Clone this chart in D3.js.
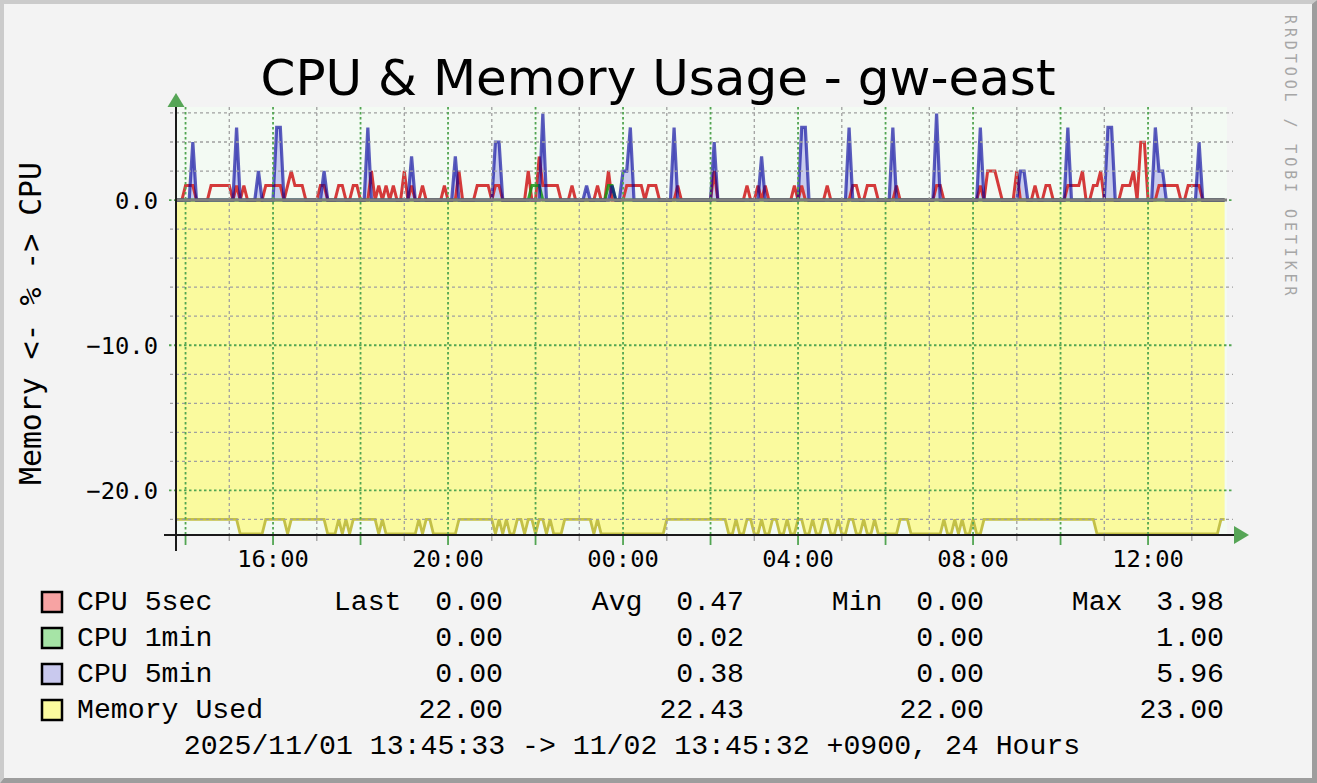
<!DOCTYPE html>
<html>
<head>
<meta charset="utf-8">
<script src="https://cdn.jsdelivr.net/npm/d3@7"></script>
<style>
  body { margin: 0; background: #f3f3f3; }
  svg { display: block; }
  text { white-space: pre; }
</style>
</head>
<body>
<div id="chart"></div>
<script>

// 5-minute samples from 13:50 on 11/01 to 13:45 on 11/02, 24 per row (= 2 hours)

var cpu5sec = [
  0,0,1,1,1,0,0,0,0,1,1,1,1,1,1,0,1,0,1,0,0,0,0,0,
  1,1,1,1,1,0,1,2,1,1,1,0,0,0,0,1,1,0,0,0,1,1,0,0,
  1,1,0,0,0,2,0,1,0,1,0,1,0,0,2,0,1,0,0,1,0,0,0,0,
  0,1,0,0,0,2,0,0,0,0,1,1,1,1,0,1,1,0,0,0,0,0,0,0,
  2,0,0,3,1,1,1,1,1,0,0,0,1,0,0,0,0,0,0,1,0,0,2,0,
  0,0,0,1,1,1,1,1,0,1,1,1,0,0,0,0,0,1,0,0,0,0,0,0,
  0,0,0,2,0,0,0,0,0,0,0,0,1,0,0,1,0,1,0,0,0,0,0,0,
  0,1,0,1,0,0,0,0,0,0,1,0,0,0,0,0,0,1,1,0,0,1,1,1,
  0,0,0,0,0,1,0,0,0,0,0,0,0,0,0,0,1,1,0,0,0,0,0,0,
  0,0,0,0,1,0,2,2,2,1,0,0,0,0,2,0,0,0,0,1,0,0,1,1,
  0,0,0,0,1,1,1,1,2,0,0,1,1,2,0,0,0,0,0,1,1,1,2,0,
  3.98,3.98,0,0,0,1,1,1,1,1,1,0,0,1,1,1,1,0,0,0,0,0,0,0
];

var cpu1min = [
  0,0,0,0,0,0,0,0,0,0,0,0,0,0,0,0,0,0,0,0,0,0,0,0,
  0,0,0,0,0,0,0,0,0,0,0,0,0,0,0,0,0,0,0,0,0,0,0,0,
  0,0,0,0,0,0,0,0,0,0,0,0,0,0,0,0,0,0,0,0,0,0,0,0,
  0,0,0,0,0,0,0,0,0,0,0,0,0,0,0,0,0,0,0,0,0,0,0,0,
  0,1,1,1,0,0,0,0,0,0,0,0,0,0,0,0,0,0,0,0,0,0,1,1,
  0,0,0,0,0,0,0,0,0,0,0,0,0,0,0,0,0,0,0,0,0,0,0,0,
  0,0,0,0,0,0,0,0,0,0,0,0,0,0,0,0,0,0,0,0,0,0,0,0,
  0,0,0,0,0,0,0,0,0,0,0,0,0,0,0,0,0,0,0,0,0,0,0,0,
  0,0,0,0,0,0,0,0,0,0,0,0,0,0,0,0,0,0,0,0,0,0,0,0,
  0,0,0,0,0,0,0,0,0,0,0,0,0,0,0,0,0,0,0,0,0,0,0,0,
  0,0,0,0,0,0,0,0,0,0,0,0,0,0,0,0,0,0,0,0,0,0,0,0,
  0,0,0,0,0,0,0,0,0,0,0,0,0,0,0,0,0,0,0,0,0,0,0,0
];

var cpu5min = [
  0,0,0,0,4,0,0,0,0,0,0,0,0,0,0,0,5,0,0,0,0,0,2,0,
  0,0,0,5,5,0,0,0,0,0,0,0,0,0,0,0,2,0,0,0,0,0,0,0,
  0,0,0,0,5,0,0,0,0,0,0,0,0,0,0,0,3,0,0,0,0,0,0,0,
  0,0,0,0,3,0,0,0,0,0,0,0,0,0,0,4,4,0,0,0,0,0,0,0,
  0,0,0,0,5.96,0,0,0,0,0,0,0,0,0,0,0,1,0,0,0,0,0,0,1,
  0,0,2,2,5,0,0,0,0,0,0,0,0,0,0,0,5,0,0,0,0,0,0,0,
  0,0,0,4,0,0,0,0,0,0,0,0,0,0,0,0,3,0,0,0,0,0,0,0,
  0,0,0,5,5,0,0,0,0,0,0,0,0,0,0,0,5,0,0,0,0,0,0,0,
  0,0,0,0,5,0,0,0,0,0,0,0,0,0,0,0,5.96,0,0,0,0,0,0,0,
  0,0,0,0,5,0,0,0,0,0,0,0,0,0,0,2,2,0,0,0,0,0,0,0,
  0,0,0,0,5,0,0,0,0,0,0,0,0,0,0,5,5,0,0,0,0,0,0,0,
  0,0,0,0,5,2,2,0,0,0,0,0,0,0,0,0,4,0,0,0,0,0,0,0
];

var memoryUsed = [
  22,22,22,22,22,22,22,22,22,22,22,22,22,22,22,22,22,23,23,23,23,23,23,23,
  22,22,22,22,22,22,23,22,22,22,22,22,22,22,22,22,22,23,23,23,22,23,22,23,
  22,22,22,22,22,22,22,23,22,23,23,23,23,23,23,23,23,23,22,23,22,22,23,23,
  23,23,23,23,23,22,22,22,22,22,22,22,22,22,22,23,22,23,22,23,23,22,22,23,
  22,22,23,22,22,23,22,23,23,23,22,22,22,22,22,22,22,22,23,22,23,23,23,23,
  23,23,23,23,23,23,23,23,23,23,23,23,23,23,22,22,22,22,22,22,22,22,22,22,
  22,22,22,22,22,22,22,23,23,22,23,23,22,22,23,23,22,23,23,22,22,23,23,22,
  23,23,22,22,23,23,22,23,23,22,22,23,23,22,23,23,22,22,23,23,22,23,23,22,
  23,23,23,23,23,23,22,22,22,23,23,23,23,23,23,23,23,23,22,23,23,22,23,22,
  23,23,22,23,23,22,22,22,22,22,22,22,22,22,22,22,22,22,22,22,22,22,22,22,
  22,22,22,22,22,22,22,22,22,22,22,22,23,23,23,23,23,23,23,23,23,23,23,23,
  23,23,23,23,23,23,23,23,23,23,23,23,23,23,23,23,23,23,23,23,23,23,22,22
];

// Legend text
var legendNames = ["CPU 5sec", "CPU 1min", "CPU 5min", "Memory Used"],
    legendSwatch = ["#f7a3a3", "#a6e4a6", "#c9c9ee", "#fbfb9f"],
    lastValues = ["0.00", "0.00", "0.00", "22.00"],
    avgValues = ["0.47", "0.02", "0.38", "22.43"],
    minValues = ["0.00", "0.00", "0.00", "22.00"],
    maxValues = ["3.98", "1.00", "5.96", "23.00"];

var yTickValues = [0, -10, -20];

var width = 1317,
    height = 783,
    plot = { left: 175, right: 1225, top: 107, bottom: 535 };

var tStart = new Date(2025, 10, 1, 13, 45, 33),
    tEnd = new Date(2025, 10, 2, 13, 45, 32),
    tFirst = new Date(2025, 10, 1, 13, 50, 0);

var xScale = d3.scaleTime()
    .domain([tStart, tEnd])
    .range([plot.left, plot.right]);

var yScale = d3.scaleLinear()
    .domain([-23.07, 6.41])
    .range([plot.bottom, plot.top]);

// Each sample covers the 5 minutes before it, so the first one also fills back to the start.
function series(values, sign) {
  var rows = values.map(function(v, i) {
    return { t: d3.timeMinute.offset(tFirst, 5 * i), v: sign * v };
  });
  rows.unshift({ t: tStart, v: sign * values[0] });
  return rows;
}

var svg = d3.select("#chart").append("svg")
    .attr("width", width)
    .attr("height", height);

// Frame

svg.append("rect")
    .attr("width", width)
    .attr("height", height)
    .attr("fill", "#f3f3f3");

svg.append("path")
    .attr("d", "M0,0H" + width + "L" + (width - 5) + ",4H4V" + (height - 5) + "L0," + height + "Z")
    .attr("fill", "#cbcbcb");

svg.append("path")
    .attr("d", "M" + width + ",0V" + height + "H0L4," + (height - 5) + "H" + (width - 5) + "V4Z")
    .attr("fill", "#9d9d9d");

// Canvas

var canvasRight = plot.right + 2;

svg.append("rect")
    .attr("x", plot.left)
    .attr("y", plot.top)
    .attr("width", canvasRight - plot.left)
    .attr("height", plot.bottom - plot.top)
    .attr("fill", "#f3faf3");

svg.append("clipPath")
    .attr("id", "clip")
  .append("rect")
    .attr("x", plot.left)
    .attr("y", plot.top)
    .attr("width", canvasRight - plot.left)
    .attr("height", plot.bottom - plot.top);

var memRows = series(memoryUsed, -1),
    cpu5minRows = series(cpu5min, 1);

var area = d3.area()
    .x(function(d) { return xScale(d.t); })
    .y0(yScale(0))
    .y1(function(d) { return yScale(d.v); });

var line = d3.line()
    .x(function(d) { return xScale(d.t); })
    .y(function(d) { return yScale(d.v); });

var graph = svg.append("g")
    .attr("clip-path", "url(#clip)");

graph.append("path")
    .attr("d", area(memRows))
    .attr("fill", "#fafa9e");

graph.append("path")
    .attr("d", area(cpu5minRows))
    .attr("fill", "rgba(110,110,225,0.32)");

// Grid: minor every 2 units / every hour, major every 10 units / every 2 hours

var grid = svg.append("g")
    .attr("class", "grid");

var yMinor = d3.range(-22, 7, 2),
    hours = d3.timeHour.range(d3.timeHour.ceil(tStart), tEnd);

grid.selectAll(".hminor")
    .data(yMinor.filter(function(v) { return v % 10 !== 0; }))
  .enter().append("line")
    .attr("x1", plot.left - 5)
    .attr("x2", canvasRight + 6)
    .attr("y1", function(d) { return yScale(d); })
    .attr("y2", function(d) { return yScale(d); })
    .attr("stroke", "#a0a0a0")
    .attr("stroke-width", 1.3)
    .attr("stroke-dasharray", "3,3");

grid.selectAll(".vminor")
    .data(hours.filter(function(h) { return h.getHours() % 2 === 1; }))
  .enter().append("line")
    .attr("x1", function(d) { return xScale(d); })
    .attr("x2", function(d) { return xScale(d); })
    .attr("y1", plot.top)
    .attr("y2", plot.bottom)
    .attr("stroke", "#a0a0a0")
    .attr("stroke-width", 1.3)
    .attr("stroke-dasharray", "3,3");

grid.selectAll(".hmajor")
    .data(yMinor.filter(function(v) { return v % 10 === 0; }))
  .enter().append("line")
    .attr("x1", plot.left - 6)
    .attr("x2", canvasRight + 6)
    .attr("y1", function(d) { return yScale(d); })
    .attr("y2", function(d) { return yScale(d); })
    .attr("stroke", "#52a552")
    .attr("stroke-width", 1.8)
    .attr("stroke-dasharray", "2.5,2.5");

grid.selectAll(".vmajor")
    .data(hours.filter(function(h) { return h.getHours() % 2 === 0; }))
  .enter().append("line")
    .attr("x1", function(d) { return xScale(d); })
    .attr("x2", function(d) { return xScale(d); })
    .attr("y1", plot.top)
    .attr("y2", plot.bottom)
    .attr("stroke", "#52a552")
    .attr("stroke-width", 1.8)
    .attr("stroke-dasharray", "2.5,2.5");

// Tick marks under the time axis

grid.selectAll(".xtick")
    .data(hours)
  .enter().append("line")
    .attr("x1", function(d) { return xScale(d); })
    .attr("x2", function(d) { return xScale(d); })
    .attr("y1", plot.bottom)
    .attr("y2", function(d) { return plot.bottom + (d.getHours() % 2 === 0 ? 10 : 6); })
    .attr("stroke", function(d) { return d.getHours() % 2 === 0 ? "#52a552" : "#a0a0a0"; })
    .attr("stroke-width", function(d) { return d.getHours() % 2 === 0 ? 1.8 : 1.3; });

// Lines

graph.append("path")
    .attr("d", line(memRows))
    .attr("fill", "none")
    .attr("stroke", "#c3c047")
    .attr("stroke-width", 2.8);

graph.append("path")
    .attr("d", line(series(cpu5sec, 1)))
    .attr("fill", "none")
    .attr("stroke", "#d43a3a")
    .attr("stroke-width", 3);

graph.append("path")
    .attr("d", line(series(cpu1min, 1)))
    .attr("fill", "none")
    .attr("stroke", "rgba(20,150,20,0.85)")
    .attr("stroke-width", 3);

graph.append("path")
    .attr("d", line(cpu5minRows))
    .attr("fill", "none")
    .attr("stroke", "rgba(0,0,155,0.63)")
    .attr("stroke-width", 3.2);

// Zero rule

svg.append("line")
    .attr("x1", plot.left + 1)
    .attr("x2", canvasRight)
    .attr("y1", yScale(0))
    .attr("y2", yScale(0))
    .attr("stroke", "#7f7f7f")
    .attr("stroke-width", 3);

// Axes with arrows

var axisX = plot.left + 1;

svg.append("line")
    .attr("x1", axisX)
    .attr("x2", axisX)
    .attr("y1", plot.top)
    .attr("y2", plot.bottom + 16)
    .attr("stroke", "#1a1a1a")
    .attr("stroke-width", 2);

svg.append("line")
    .attr("x1", plot.left - 11)
    .attr("x2", canvasRight + 7)
    .attr("y1", plot.bottom)
    .attr("y2", plot.bottom)
    .attr("stroke", "#1a1a1a")
    .attr("stroke-width", 2);

svg.append("path")
    .attr("d", "M" + (axisX - 8.5) + "," + plot.top + "L" + axisX + "," + (plot.top - 14) +
               "L" + (axisX + 8.5) + "," + plot.top + "Z")
    .attr("fill", "#56a556");

svg.append("path")
    .attr("d", "M" + (canvasRight + 7) + "," + (plot.bottom - 9) + "L" + (canvasRight + 22) + "," + plot.bottom +
               "L" + (canvasRight + 7) + "," + (plot.bottom + 9) + "Z")
    .attr("fill", "#56a556");

// Tick labels

var monoFont = "'DejaVu Sans Mono', monospace";

svg.selectAll(".ylabel")
    .data(yTickValues)
  .enter().append("text")
    .attr("x", 158)
    .attr("y", function(d) { return yScale(d) + 9; })
    .attr("text-anchor", "end")
    .style("font-family", monoFont)
    .style("font-size", "23.8px")
    .attr("fill", "#000")
    .text(d3.format(".1f"));

svg.selectAll(".xlabel")
    .data(hours.filter(function(h) { return h.getHours() % 4 === 0; }))
  .enter().append("text")
    .attr("x", function(d) { return xScale(d); })
    .attr("y", 567)
    .attr("text-anchor", "middle")
    .style("font-family", monoFont)
    .style("font-size", "23.8px")
    .attr("fill", "#000")
    .text(d3.timeFormat("%H:%M"));

// Titles

svg.append("text")
    .attr("x", 658)
    .attr("y", 95)
    .attr("text-anchor", "middle")
    .style("font-family", "'DejaVu Sans', sans-serif")
    .style("font-size", "50px")
    .attr("fill", "#000")
    .text("CPU & Memory Usage - gw-east");

svg.append("text")
    .attr("transform", "translate(41,323.5) rotate(-90)")
    .attr("text-anchor", "middle")
    .style("font-family", monoFont)
    .style("font-size", "29.8px")
    .attr("fill", "#000")
    .text("Memory <- % -> CPU");

svg.append("text")
    .attr("transform", "translate(1285,15) rotate(90)")
    .style("font-family", monoFont)
    .style("font-size", "15px")
    .style("letter-spacing", "3.9px")
    .attr("fill", "#a6a6a6")
    .text("RRDTOOL / TOBI OETIKER");

// Legend

var legendFont = "'Courier New', 'Nimbus Mono PS', 'Nimbus Mono L', FreeMono, 'Liberation Mono', monospace",
    rowY = function(i) { return 609.5 + i * 36; };

var legend = svg.append("g")
    .style("font-family", legendFont)
    .style("font-size", "28.2px")
    .attr("fill", "#000");

legend.selectAll("rect")
    .data(legendNames)
  .enter().append("rect")
    .attr("x", 42)
    .attr("y", function(d, i) { return rowY(i) - 17.5; })
    .attr("width", 20)
    .attr("height", 20)
    .attr("fill", function(d, i) { return legendSwatch[i]; })
    .attr("stroke", "#000")
    .attr("stroke-width", 2.5);

legend.selectAll(".name")
    .data(legendNames)
  .enter().append("text")
    .attr("x", 77)
    .attr("y", function(d, i) { return rowY(i); })
    .text(function(d) { return d; });

var columns = [
  { label: "Last", values: lastValues, x: 503 },
  { label: "Avg", values: avgValues, x: 744 },
  { label: "Min", values: minValues, x: 984 },
  { label: "Max", values: maxValues, x: 1224 }
];

columns.forEach(function(col) {
  legend.selectAll(null)
      .data(col.values)
    .enter().append("text")
      .attr("xml:space", "preserve")
      .attr("x", col.x)
      .attr("y", function(d, i) { return rowY(i); })
      .attr("text-anchor", "end")
      .text(function(d, i) { return i === 0 ? col.label + "  " + d : d; });
});

legend.append("text")
    .attr("x", 632)
    .attr("y", rowY(4))
    .attr("text-anchor", "middle")
    .text("2025/11/01 13:45:33 -> 11/02 13:45:32 +0900, 24 Hours");

</script>
</body>
</html>
